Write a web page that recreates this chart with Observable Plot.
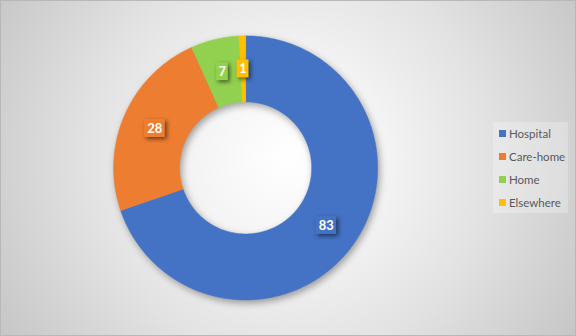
<!DOCTYPE html>
<html>
<head>
<meta charset="utf-8">
<script src="https://cdn.jsdelivr.net/npm/d3@7"></script>
<script src="https://cdn.jsdelivr.net/npm/@observablehq/plot@0.6"></script>
<style>
  html, body { margin: 0; padding: 0; }
  #chart {
    position: relative; width: 576px; height: 336px; box-sizing: border-box;
    border: 1px solid #b8b8b8; overflow: hidden;
    background: radial-gradient(circle farthest-corner at 50% 47%, #ffffff 0%, #f3f3f3 30%, #e2e2e2 60%, #c6c6c6 100%);
    font-family: Lato, "Open Sans", sans-serif;
  }
  #chart svg { position: absolute; left: -1px; top: -1px; }
  #chart svg g[aria-label="line"] { filter: drop-shadow(2px 3px 4px rgba(0,0,0,0.35)); }
  #chart svg g[aria-label="rect"] { filter: drop-shadow(2px 2px 2px rgba(0,0,0,0.55)); }
  #legend {
    position: absolute; left: 492px; top: 121px; width: 75px; height: 91px;
    background: rgba(255,255,255,0.25); box-sizing: border-box; padding-top: 0px;
  }
  .item { height: 23px; display: flex; align-items: center; font-size: 11.5px; color: #595959; }
  .sw { width: 7px; height: 7px; margin-left: 6px; margin-right: 3px; }
</style>
</head>
<body>
<div id="chart"></div>
<script>
const categories = ["Hospital", "Care-home", "Home", "Elsewhere"];
const values = [83, 28, 7, 1];
const colors = ["#4472C4", "#ED7D31", "#92D050", "#FFC000"];

const W = 576, H = 336;
const cx = 246, cy = 168, R = 132.5, innerFrac = 0.5;

const data = categories.map((c, i) => ({name: c, value: values[i], color: colors[i]}));
const arcs = d3.pie().sort(null).value(d => d.value)(data);

// polygon points along each arc (unit-radius data space)
const pts = [];
for (const a of arcs) {
  const n = Math.max(4, Math.ceil((a.endAngle - a.startAngle) / 0.01));
  for (let k = 0; k <= n; k++) {
    const t = a.startAngle + (a.endAngle - a.startAngle) * k / n;
    pts.push({name: a.data.name, x: Math.sin(t), y: Math.cos(t)});
  }
  for (let k = n; k >= 0; k--) {
    const t = a.startAngle + (a.endAngle - a.startAngle) * k / n;
    pts.push({name: a.data.name, x: innerFrac * Math.sin(t), y: innerFrac * Math.cos(t)});
  }
}

const midR = (1 + innerFrac) / 2;
const labels = arcs.map(a => {
  const m = (a.startAngle + a.endAngle) / 2;
  const txt = String(a.data.value);
  const hw = (txt.length > 1 ? 10.5 : 6) / R, hh = 9 / R;
  const x = midR * Math.sin(m), y = midR * Math.cos(m);
  return {name: a.data.name, text: txt, x, y, x1: x - hw, x2: x + hw, y1: y - hh, y2: y + hh};
});

const plot = Plot.plot({
  width: W, height: H,
  margin: 0,
  style: {background: "transparent", overflow: "visible"},
  x: {domain: [-1, 1], range: [cx - R, cx + R], axis: null},
  y: {domain: [-1, 1], range: [cy + R, cy - R], axis: null},
  color: {domain: categories, range: colors},
  marks: [
    Plot.line(pts, {x: "x", y: "y", z: "name", fill: "name", stroke: "name", strokeWidth: 0.5, curve: "linear"}),
    Plot.rect(labels, {x1: "x1", x2: "x2", y1: "y1", y2: "y2", fill: "name"}),
    Plot.text(labels, {x: "x", y: "y", text: "text", fill: "white", fontWeight: "bold", fontSize: 13, fontFamily: "Lato, 'Open Sans', sans-serif"})
  ]
});

const chart = document.getElementById("chart");
chart.appendChild(plot);

const legend = document.createElement("div");
legend.id = "legend";
categories.forEach((c, i) => {
  const it = document.createElement("div");
  it.className = "item";
  const sw = document.createElement("span");
  sw.className = "sw";
  sw.style.background = colors[i];
  const lab = document.createElement("span");
  lab.textContent = c;
  it.appendChild(sw); it.appendChild(lab);
  legend.appendChild(it);
});
chart.appendChild(legend);
</script>
</body>
</html>
